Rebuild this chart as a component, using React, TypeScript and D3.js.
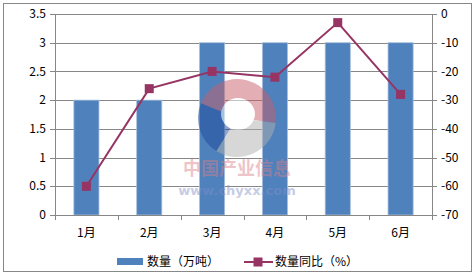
import React from "react";
import * as d3 from "d3";

const categories = ["1月", "2月", "3月", "4月", "5月", "6月"];
const volume = [2, 2, 3, 3, 3, 3];
const yoy = [-60, -26, -20, -22, -3, -28];
const leftTicks = [0, 0.5, 1, 1.5, 2, 2.5, 3, 3.5];
const rightTicks = [0, -10, -20, -30, -40, -50, -60, -70];
const seriesNames = ["数量（万吨）", "数量同比（%）"];

const W = 475, H = 275;
const L = 55, R = 432, T = 14, B = 215;
const font = "'Noto Sans CJK SC', 'DejaVu Sans', sans-serif";
const barColor = "#4F81BD";
const lineColor = "#963564";
const gridColor = "#878787";

export default function App() {
  const x = d3.scaleBand<string>().domain(categories).range([L, R]).paddingInner(0.6).paddingOuter(0.3);
  const xb = d3.scaleBand<string>().domain(categories).range([L, R]);
  const yl = d3.scaleLinear().domain([0, 3.5]).range([B, T]);
  const yr = d3.scaleLinear().domain([-70, 0]).range([B, T]);
  const line = d3.line<number>().x((_, i) => (xb(categories[i]) as number) + xb.bandwidth() / 2).y(d => yr(d));
  const cx = 237, cy = 118, rO = 39;
  const arc = d3.arc();
  const seg = (s: number, e: number, fill: string) => (
    <path transform={`translate(${cx},${cy})`} d={arc({ innerRadius: 0, outerRadius: rO, startAngle: s, endAngle: e } as any) as string} fill={fill} />
  );
  return (
    <svg width={W} height={H} style={{ position: "absolute", left: 0, top: 0 }}>
      <rect x={0} y={0} width={W} height={H} fill="#fff" />
      <rect x={3.5} y={3.5} width={468} height={268} fill="none" stroke="#888" />
      {leftTicks.map(t => (
        <g key={"l" + t}>
          {t !== 0 && <line x1={L} x2={R} y1={Math.round(yl(t)) + 0.5} y2={Math.round(yl(t)) + 0.5} stroke={gridColor} />}
          <line x1={L - 5} x2={L} y1={Math.round(yl(t)) + 0.5} y2={Math.round(yl(t)) + 0.5} stroke={gridColor} />
          <text x={46} y={yl(t)} dy="0.35em" textAnchor="end" fontFamily={font} fontSize={12} fill="#000">{t}</text>
        </g>
      ))}
      {rightTicks.map(t => (
        <g key={"r" + t}>
          <line x1={R} x2={R + 5} y1={Math.round(yr(t)) + 0.5} y2={Math.round(yr(t)) + 0.5} stroke={gridColor} />
          <text x={441} y={yr(t)} dy="0.35em" textAnchor="start" fontFamily={font} fontSize={12} fill="#000">{t === 0 ? "0" : "-" + Math.abs(t)}</text>
        </g>
      ))}
      {categories.map((c, i) => (
        <rect key={c} x={x(c)} y={yl(volume[i])} width={x.bandwidth()} height={B - yl(volume[i])} fill={barColor} stroke="#A9C0DD" strokeWidth={0.8} />
      ))}
      <line x1={L + 0.5} x2={L + 0.5} y1={T} y2={B} stroke={gridColor} />
      <line x1={R + 0.5} x2={R + 0.5} y1={T} y2={B} stroke={gridColor} />
      <line x1={L} x2={R} y1={B + 0.5} y2={B + 0.5} stroke={gridColor} />
      {categories.concat(["end"]).map((c, i) => {
        const xx = Math.round(L + i * xb.bandwidth()) + 0.5;
        return <line key={"t" + i} x1={xx} x2={xx} y1={B} y2={B + 5} stroke={gridColor} />;
      })}
      {categories.map(c => (
        <text key={"x" + c} x={(xb(c) as number) + xb.bandwidth() / 2} y={233} dy="0.35em" textAnchor="middle" fontFamily={font} fontSize={12} fill="#000">{c}</text>
      ))}
      {/* watermark */}
      <g opacity={0.5}>
        {seg(-1.2, 1.7, "#c8606c")}
        {seg(1.7, 3.7, "#b0b0b0")}
        {seg(3.7, 5.1, "#1f4a9a")}
        <ellipse cx={cx + 1} cy={cy - 4} rx={17} ry={16} fill="#fff" />
      </g>
      <g opacity={0.45}>
        <text x={237} y={175} textAnchor="middle" fontFamily={font} fontWeight="bold" fontSize={18} fill="#d8808a">中国产业信息</text>
        <text x={237} y={195} textAnchor="middle" fontFamily="'DejaVu Sans', sans-serif" fontWeight="bold" fontSize={13} fill="#8090c8">www.chyxx.com</text>
      </g>
      <path d={line(yoy) as string} fill="none" stroke={lineColor} strokeWidth={2} />
      {yoy.map((v, i) => (
        <rect key={"m" + i} x={(xb(categories[i]) as number) + xb.bandwidth() / 2 - 4.5} y={yr(v) - 4.5} width={9} height={9} fill={lineColor} />
      ))}
      {/* legend */}
      <rect x={117} y={258} width={26} height={7} fill={barColor} />
      <text x={147} y={262} dy="0.35em" fontFamily={font} fontSize={12} fill="#000">{seriesNames[0]}</text>
      <line x1={244} x2={273} y1={262} y2={262} stroke={lineColor} strokeWidth={2} />
      <rect x={253.5} y={257.5} width={9} height={9} fill={lineColor} />
      <text x={275} y={262} dy="0.35em" fontFamily={font} fontSize={12} fill="#000">{seriesNames[1]}</text>
    </svg>
  );
}
